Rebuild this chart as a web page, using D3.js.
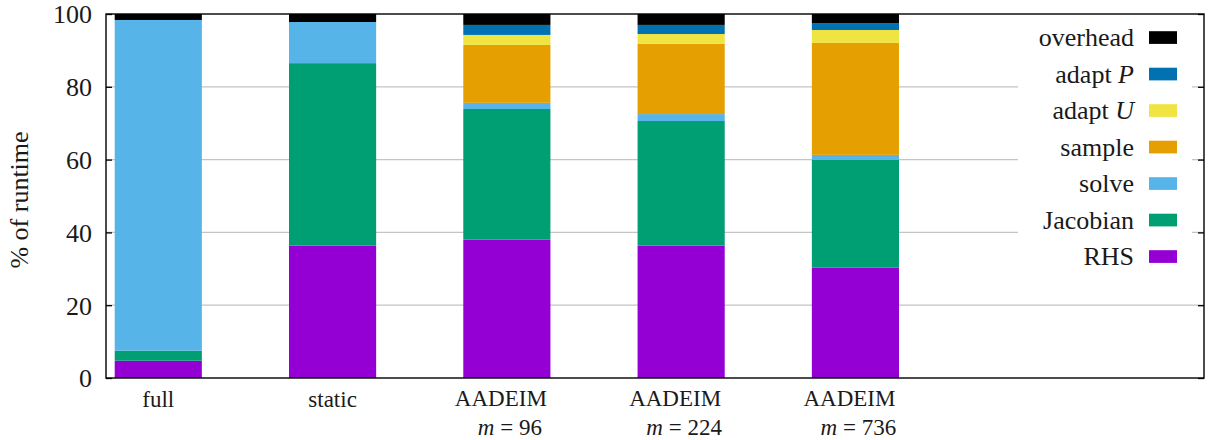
<!DOCTYPE html>
<html>
<head>
<meta charset="utf-8">
<script src="https://cdn.jsdelivr.net/npm/d3@7"></script>
<style>
  html, body { margin: 0; padding: 0; background: #fff; }
  svg { display: block; }
  svg text { font-family: 'Liberation Serif', 'DejaVu Serif', 'Noto Serif', serif; fill: #1a1a1a; }
</style>
</head>
<body>
<svg id="chart" width="1208" height="440"></svg>
<script>
// Runtime breakdown per method, in percent of total runtime.
const categories = ["full", "static", "AADEIM|96", "AADEIM|224", "AADEIM|736"];
const seriesNames = ["RHS", "Jacobian", "solve", "sample", "adapt U", "adapt P", "overhead"];
const seriesColors = ["#9400d3", "#009e73", "#56b4e9", "#e69f00", "#f0e442", "#0072b2", "#000000"];

const rhs      = [4.75, 36.35, 38.0, 36.35, 30.3];
const jacobian = [2.75, 50.15, 35.9, 34.25, 29.6];
const solve    = [90.86, 11.3, 1.7, 1.9, 1.4];
const sample   = [0, 0, 15.9, 19.3, 30.75];
const adaptU   = [0, 0, 2.75, 2.7, 3.55];
const adaptP   = [0, 0, 2.75, 2.5, 1.9];
const overhead = [1.64, 2.2, 3.0, 3.0, 2.5];

const yTicks = [0, 20, 40, 60, 80, 100];

const FONT = "'Liberation Serif', 'DejaVu Serif', 'Noto Serif', serif";

const seriesValues = [rhs, jacobian, solve, sample, adaptU, adaptP, overhead];
const rows = categories.map((c, i) => {
  const r = { category: c };
  seriesNames.forEach((s, k) => { r[s] = seriesValues[k][i]; });
  return r;
});

const svg = d3.select("#chart");
const plot = { left: 106, right: 1204, top: 14, bottom: 378 };

const x = d3.scaleLinear().domain([-0.3, 6]).range([plot.left, plot.right]);
const y = d3.scaleLinear().domain([0, 100]).range([plot.bottom, plot.top]);
const barWidth = x(0.5) - x(0);

// grid lines
svg.append("g")
  .selectAll("line")
  .data(yTicks.filter(t => t > 0 && t < 100))
  .join("line")
  .attr("x1", plot.left).attr("x2", plot.right)
  .attr("y1", d => y(d)).attr("y2", d => y(d))
  .attr("stroke", "#c4c4c4").attr("stroke-width", 1.3);

// stacked bars
const stack = d3.stack().keys(seriesNames)(rows);
svg.append("g")
  .selectAll("g")
  .data(stack)
  .join("g")
  .attr("fill", (d, k) => seriesColors[k])
  .selectAll("rect")
  .data(d => d)
  .join("rect")
  .attr("x", (d, i) => x(i) - barWidth / 2)
  .attr("width", barWidth)
  .attr("y", d => y(d[1]))
  .attr("height", d => Math.max(0, y(d[0]) - y(d[1])));

// legend, opaque box over the grid
const legend = svg.append("g");
legend.append("rect")
  .attr("x", 1018).attr("y", plot.top + 1)
  .attr("width", 174).attr("height", 258)
  .attr("fill", "#fff");

const legendOrder = seriesNames.map((s, k) => k).reverse();
const legendItem = legend.selectAll("g.item")
  .data(legendOrder)
  .join("g")
  .attr("class", "item")
  .attr("transform", (k, j) => `translate(0, ${37.5 + j * 36.5})`);

legendItem.append("rect")
  .attr("x", 1149).attr("y", -6.3)
  .attr("width", 28).attr("height", 12.7)
  .attr("fill", k => seriesColors[k]);

legendItem.append("text")
  .attr("x", 1134).attr("y", 8.5)
  .attr("text-anchor", "end")
  .attr("font-family", FONT)
  .attr("font-size", 26)
  .each(function (k) {
    const name = seriesNames[k];
    const t = d3.select(this);
    const m = name.match(/^adapt (\w)$/);
    if (m) {
      t.append("tspan").text("adapt ");
      t.append("tspan").attr("font-style", "italic").text(m[1]);
    } else {
      t.text(name);
    }
  });

// axes
const yAxisLeft = d3.axisLeft(y).tickValues(yTicks).tickSize(-6).tickPadding(14);
const gy = svg.append("g").attr("transform", `translate(${plot.left},0)`).call(yAxisLeft)
  .attr("font-family", FONT).attr("font-size", 26);
gy.select(".domain").remove();
gy.selectAll(".tick line").attr("stroke", "#000").attr("stroke-width", 1.3);
gy.selectAll(".tick text")
  .attr("fill", "#1a1a1a")
  .attr("dy", "0.34em");

const yAxisRight = d3.axisRight(y).tickValues(yTicks).tickSize(-6).tickFormat("");
const gyr = svg.append("g").attr("transform", `translate(${plot.right},0)`).call(yAxisRight);
gyr.select(".domain").remove();
gyr.selectAll(".tick line").attr("stroke", "#000").attr("stroke-width", 1.3);

// frame
svg.append("rect")
  .attr("x", plot.left).attr("y", plot.top)
  .attr("width", plot.right - plot.left).attr("height", plot.bottom - plot.top)
  .attr("fill", "none").attr("stroke", "#000").attr("stroke-width", 1.4);

// category labels; a second line holds the basis size m
const xl = svg.append("g").attr("font-size", 23).attr("font-family", FONT);
categories.forEach((c, i) => {
  const parts = c.split("|");
  if (parts.length === 1) {
    xl.append("text").attr("x", x(i)).attr("y", 407)
      .attr("text-anchor", "middle").text(parts[0]);
  } else {
    xl.append("text").attr("x", x(i) - 6).attr("y", 406)
      .attr("text-anchor", "middle").text(parts[0]);
    const t = xl.append("text").attr("x", x(i) + 3).attr("y", 435)
      .attr("text-anchor", "middle");
    t.append("tspan").attr("font-style", "italic").text("m");
    t.append("tspan").text(" = " + parts[1]);
  }
});

// y title
svg.append("text")
  .attr("transform", `translate(28, ${(plot.top + plot.bottom) / 2 + 4}) rotate(-90)`)
  .attr("text-anchor", "middle")
  .attr("font-family", FONT)
  .attr("font-size", 26)
  .text("% of runtime");
</script>
</body>
</html>
